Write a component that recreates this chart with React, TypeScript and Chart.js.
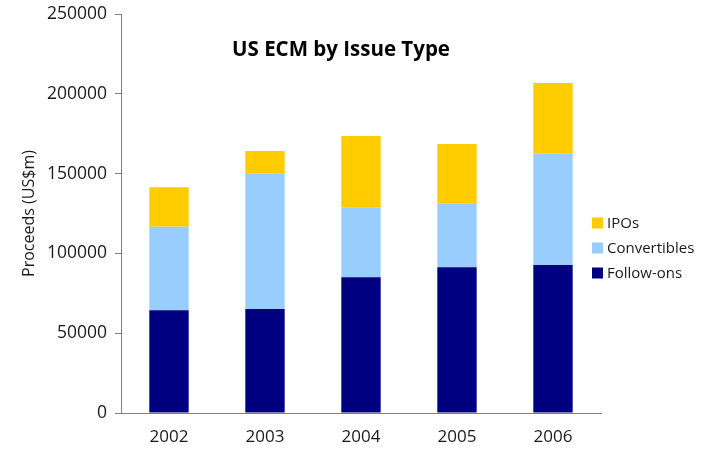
import React, { useEffect, useRef } from "react";
import { Chart, registerables } from "chart.js";

Chart.register(...registerables);

const categories = ["2002", "2003", "2004", "2005", "2006"];
const followOns = [64400, 65100, 85100, 91400, 92700];
const convertibles = [52300, 84800, 43500, 40000, 69800];
const ipos = [24700, 14300, 45000, 37200, 44300];
const seriesNames = ["Follow-ons", "Convertibles", "IPOs"];
const seriesColors = ["#000080", "#99CCFF", "#FFCC00"];
const chartTitle = "US ECM by Issue Type";
const yAxisTitle = "Proceeds (US$m)";
const yMin = 0;
const yMax = 250000;
const yStep = 50000;

const FONT = "'Open Sans', 'DejaVu Sans', sans-serif";
const AXIS_COLOR = "#808080";

const innerTitlePlugin = {
  id: "innerTitle",
  afterDraw(chart: any, _args: any, opts: any) {
    const { ctx, chartArea } = chart;
    ctx.save();
    ctx.font = `bold ${opts.size}px ${FONT}`;
    ctx.fillStyle = "#000";
    ctx.textAlign = "center";
    ctx.textBaseline = "alphabetic";
    ctx.fillText(opts.text, chartArea.left + opts.dx, chartArea.top + opts.dy);
    ctx.restore();
  },
};

const sideLegendPlugin = {
  id: "sideLegend",
  afterDraw(chart: any, _args: any, opts: any) {
    const { ctx, chartArea } = chart;
    const ds = chart.data.datasets.slice().reverse();
    ctx.save();
    ctx.font = `${opts.size}px ${FONT}`;
    ctx.textAlign = "left";
    ctx.textBaseline = "middle";
    ds.forEach((d: any, i: number) => {
      const cy = chartArea.top + opts.top + i * opts.gap;
      const x = chartArea.right + opts.dx;
      ctx.fillStyle = d.backgroundColor;
      ctx.fillRect(x, cy - opts.box / 2, opts.box, opts.box);
      ctx.fillStyle = "#1a1a1a";
      ctx.fillText(d.label, x + opts.box + 4, cy + 1);
    });
    ctx.restore();
  },
};

export default function App() {
  const ref = useRef<HTMLCanvasElement>(null);
  useEffect(() => {
    if (!ref.current) return;
    const values = [followOns, convertibles, ipos];
    const chart = new Chart(ref.current, {
      type: "bar",
      data: {
        labels: categories,
        datasets: seriesNames.map((name, i) => ({
          label: name,
          data: values[i],
          backgroundColor: seriesColors[i],
          borderWidth: 0,
          barPercentage: 0.41,
          categoryPercentage: 1,
        })),
      },
      options: {
        animation: false,
        responsive: false,
        devicePixelRatio: 1,
        layout: { padding: { top: 14, right: 111, left: 0, bottom: 0 } },
        plugins: {
          legend: { display: false },
          tooltip: { enabled: false },
          innerTitle: { text: chartTitle, size: 20.5, dx: 220, dy: 41.5 },
          sideLegend: { size: 15, box: 11, top: 209, gap: 25, dx: -9 },
        } as any,
        scales: {
          x: {
            stacked: true,
            grid: { display: false, drawTicks: false },
            border: { display: true, color: AXIS_COLOR, width: 1 },
            ticks: { color: "#1a1a1a", font: { family: FONT, size: 17 }, padding: 14 },
            afterFit: (s: any) => { s.height = 36; },
          },
          y: {
            stacked: true,
            min: yMin,
            max: yMax,
            grid: { drawOnChartArea: false, drawTicks: true, tickLength: 6, color: AXIS_COLOR },
            border: { display: true, color: AXIS_COLOR, width: 1 },
            ticks: {
              stepSize: yStep,
              color: "#1a1a1a",
              font: { family: FONT, size: 17.5, lineHeight: 0.6 },
              padding: 8,
              callback: (v: any) => String(v),
            },
            title: {
              display: true,
              text: yAxisTitle,
              color: "#1a1a1a",
              font: { family: FONT, size: 16 },
              padding: { top: 20, bottom: 0 },
            },
            afterFit: (s: any) => { s.width = 121; },
          },
        },
      },
      plugins: [innerTitlePlugin, sideLegendPlugin],
    });
    return () => chart.destroy();
  }, []);
  return (
    <div style={{ position: "absolute", left: 0, top: 0, width: 712, height: 449, background: "#fff" }}>
      <canvas ref={ref} width={712} height={449} />
    </div>
  );
}
